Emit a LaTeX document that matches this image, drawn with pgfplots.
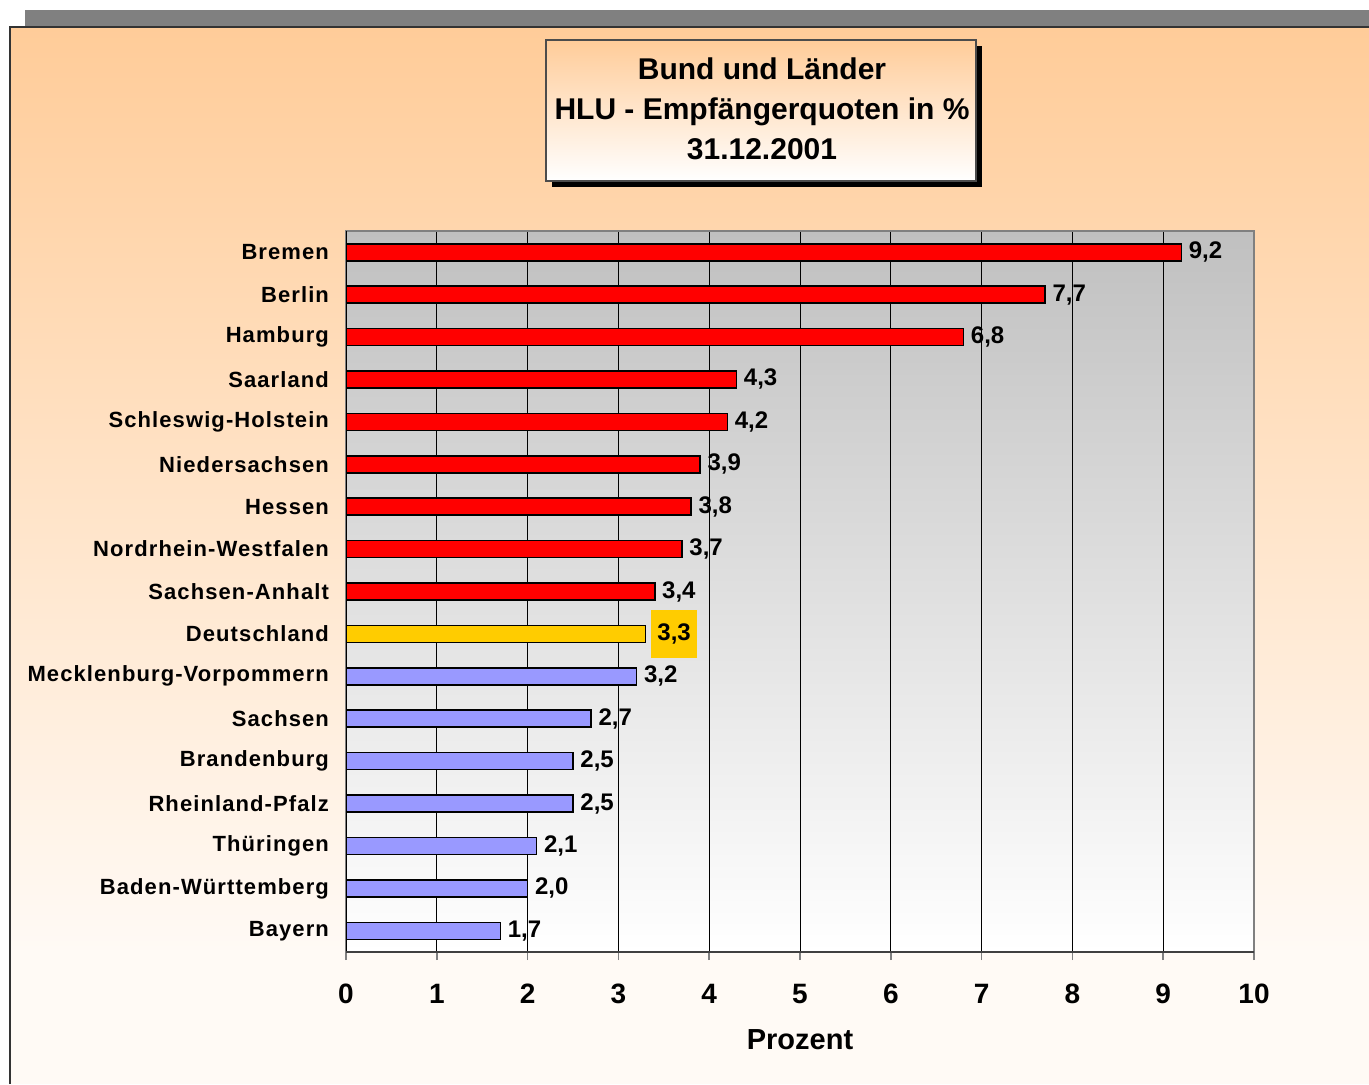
\documentclass[border=0pt]{standalone}
\usepackage{pgfplots}
\pgfplotsset{compat=1.18}
\usepackage{fontspec}
\setmainfont{Liberation Sans}
\definecolor{bgtop}{HTML}{FFCC99}
\definecolor{bgbot}{HTML}{FFFAF5}
\definecolor{plotgray}{HTML}{C0C0C0}
\definecolor{barred}{HTML}{FF0000}
\definecolor{baryellow}{HTML}{FFCC00}
\definecolor{barblue}{HTML}{9999FF}
\definecolor{framegray}{HTML}{808080}
\begin{document}
\begin{tikzpicture}
\begin{scope}[x=0.5pt,y=-0.5pt]
\path[use as bounding box] (0,0) rectangle (1369,1084);
\fill[white] (0,0) rectangle (1369,1084);
\shade[top color=bgtop,bottom color=bgbot] (10,27) rectangle (1369,950);
\fill[bgbot] (10,950) rectangle (1369,1084);
\fill[framegray] (25,10) rectangle (1369,26);
\draw[black!80, line width=1pt] (10,1084) -- (10,27) -- (1369,27);
\fill[black] (552,46) rectangle (982,187);
\shade[top color=bgtop,bottom color=white] (546,40) rectangle (976,181);
\draw[black!70, line width=0.6pt] (546,40) rectangle (976,181);
\node[align=center, font=\bfseries\fontsize{15}{20}\selectfont] at (762,109) {Bund und Länder\\HLU - Empfängerquoten in \%\\31.12.2001};
\end{scope}
\begin{axis}[
  at={(173pt,-476pt)}, anchor=south west,
  scale only axis, width=454pt, height=360.5pt,
  xbar, bar width=8.5pt, bar shift=0pt,
  xmin=0, xmax=10, ymin=-0.5, ymax=16.5, y dir=reverse,
  xtick={0,1,...,10}, xticklabels={0,1,2,3,4,5,6,7,8,9,10},
  ytick={0,1,...,16},
  yticklabels={Bremen,Berlin,Hamburg,Saarland,Schleswig-Holstein,Niedersachsen,Hessen,Nordrhein-Westfalen,Sachsen-Anhalt,Deutschland,Mecklenburg-Vorpommern,Sachsen,Brandenburg,Rheinland-Pfalz,Thüringen,Baden-Württemberg,Bayern},
  xmajorgrids, major grid style={black, line width=0.5pt},
  axis background/.style={shade, top color=plotgray, bottom color=white},
  axis line style={draw=framegray, line width=1pt},
  xtick pos=bottom, tick align=outside, major tick length=4pt,
  xtick style={framegray, line width=0.8pt},
  ytick style={draw=none},
  xticklabel style={font=\bfseries\fontsize{14}{16}\selectfont, anchor=center, yshift=-17pt},
  yticklabel style={font=\bfseries\fontsize{11}{13}\selectfont\addfontfeatures{LetterSpace=5}, anchor=east, xshift=-1pt},
  xlabel={Prozent},
  xlabel style={font=\bfseries\fontsize{14.5}{16}\selectfont, at={(axis description cs:0.5,0)}, anchor=center, yshift=-44pt},
  nodes near coords={\pgfmathprintnumber[fixed,fixed zerofill,precision=1,use comma,assume math mode=true]{\pgfplotspointmeta}},
  every node near coord/.append style={font=\bfseries\fontsize{12}{14}\selectfont, black},
  point meta=x,
]
\addplot[draw=black, line width=0.8pt, fill=barred] coordinates {
(9.2,0) (7.7,1) (6.8,2) (4.3,3) (4.2,4) (3.9,5) (3.8,6) (3.7,7) (3.4,8)};
\addplot[draw=black, line width=0.8pt, fill=baryellow,
  every node near coord/.append style={fill=baryellow, minimum height=24pt, inner xsep=3pt, xshift=2.5pt}] coordinates {
(3.3,9)};
\addplot[draw=black, line width=0.8pt, fill=barblue] coordinates {
(3.2,10) (2.7,11) (2.5,12) (2.5,13) (2.1,14) (2.0,15) (1.7,16)};
\draw[black, line width=0.8pt] (axis cs:0,-0.5) -- (axis cs:0,16.5);
\draw[black!75, line width=1pt] (axis cs:0,16.5) -- (axis cs:10,16.5);
\end{axis}
\end{tikzpicture}
\end{document}
